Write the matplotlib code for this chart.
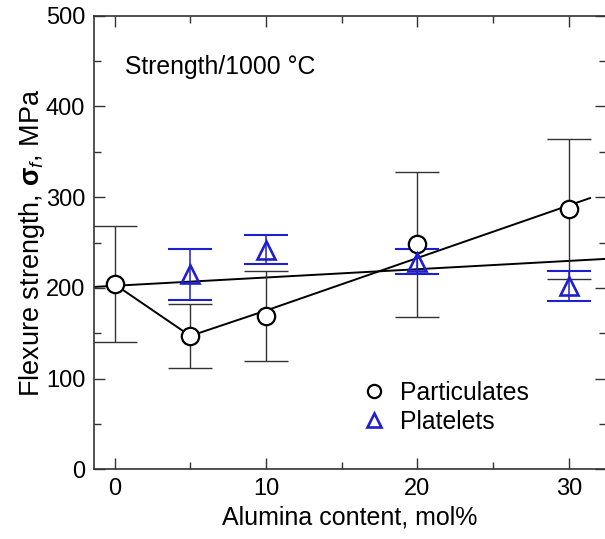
import matplotlib
matplotlib.use("Agg")
import matplotlib.pyplot as plt
from matplotlib.ticker import MultipleLocator
from matplotlib.lines import Line2D

plt.rcParams['font.family'] = ['Liberation Sans', 'DejaVu Sans']
plt.rcParams['mathtext.fontset'] = 'custom'
plt.rcParams['mathtext.rm'] = 'Liberation Sans'
plt.rcParams['mathtext.it'] = 'Liberation Sans:italic'
plt.rcParams['mathtext.bf'] = 'Liberation Sans:bold'

# Data
part_x = [0, 5, 10, 20, 30]
part_y = [204, 147, 169, 248, 287]
part_err = [64, 35, 50, 80, 77]

plat_x = [5, 10, 20, 30]
plat_y = [215, 242, 229, 202]
plat_err = [28, 16, 14, 17]

# trend lines
trend_part_x = [0, 5, 10, 31.4]
trend_part_y = [204, 147, 175, 299]
trend_plat_x = [-1.4, 32.5]
trend_plat_y = [201, 232]

xticks = [0, 10, 20, 30]
yticks = [0, 100, 200, 300, 400, 500]

fig = plt.figure(figsize=(6.05, 5.39), dpi=100)
ax = fig.add_axes([93.5/605, 1 - 469.3/539, (606 - 93.5)/605, (469.3 - 15.7)/539])

blue = '#1f1fd0'

ax.plot(trend_plat_x, trend_plat_y, color='black', lw=1.4, zorder=2)
ax.plot(trend_part_x, trend_part_y, color='black', lw=1.4, zorder=2)

ax.errorbar(part_x, part_y, yerr=part_err, fmt='none', ecolor='#333333',
            elinewidth=1.0, capsize=16, capthick=1.0, zorder=3)
ax.errorbar(plat_x, plat_y, yerr=plat_err, fmt='none', ecolor=blue,
            elinewidth=1.1, capsize=16, capthick=1.5, zorder=3)

ax.plot(part_x, part_y, linestyle='none', marker='o', markersize=12.5,
        markerfacecolor='white', markeredgecolor='black', markeredgewidth=1.6, zorder=4)
ax.plot(plat_x, plat_y, linestyle='none', marker='^', markersize=12.5,
        markerfacecolor='none', markeredgecolor=blue, markeredgewidth=1.9, zorder=4)

ax.set_xlim(-1.39, 32.45)
ax.set_ylim(0, 500)
ax.set_xticks(xticks)
ax.set_yticks(yticks)
ax.xaxis.set_minor_locator(MultipleLocator(5))
ax.yaxis.set_minor_locator(MultipleLocator(50))
ax.tick_params(which='both', direction='in', top=True, right=True,
               labelsize=17, color='#333333', width=1.0)
ax.tick_params(which='major', length=8, pad=6)
ax.tick_params(which='minor', length=5)
for s in ax.spines.values():
    s.set_color('#333333')
    s.set_linewidth(1.2)

ax.set_xlabel('Alumina content, mol%', fontsize=18, labelpad=4)
ax.set_ylabel(r'Flexure strength, $\mathbf{\sigma}_{\mathit{f}}$, MPa', fontsize=19.5, labelpad=-1)

ax.text(0.7, 443, 'Strength/1000 \u00b0C', fontsize=17.8, ha='left', va='center')

handles = [
    Line2D([], [], linestyle='none', marker='o', markersize=9.5, markerfacecolor='white',
           markeredgecolor='black', markeredgewidth=1.6),
    Line2D([], [], linestyle='none', marker='^', markersize=9.5, markerfacecolor='none',
           markeredgecolor=blue, markeredgewidth=1.9),
]
ax.legend(handles, ['Particulates', 'Platelets'], loc='upper left',
          bbox_to_anchor=((362 - 93.5)/(606 - 93.5), (469.3 - 381)/(469.3 - 15.7)),
          frameon=False, fontsize=17.8, handlelength=1.0, handletextpad=0.55,
          labelspacing=0.2, borderpad=0, borderaxespad=0)

fig.savefig('out.png', dpi=100)
